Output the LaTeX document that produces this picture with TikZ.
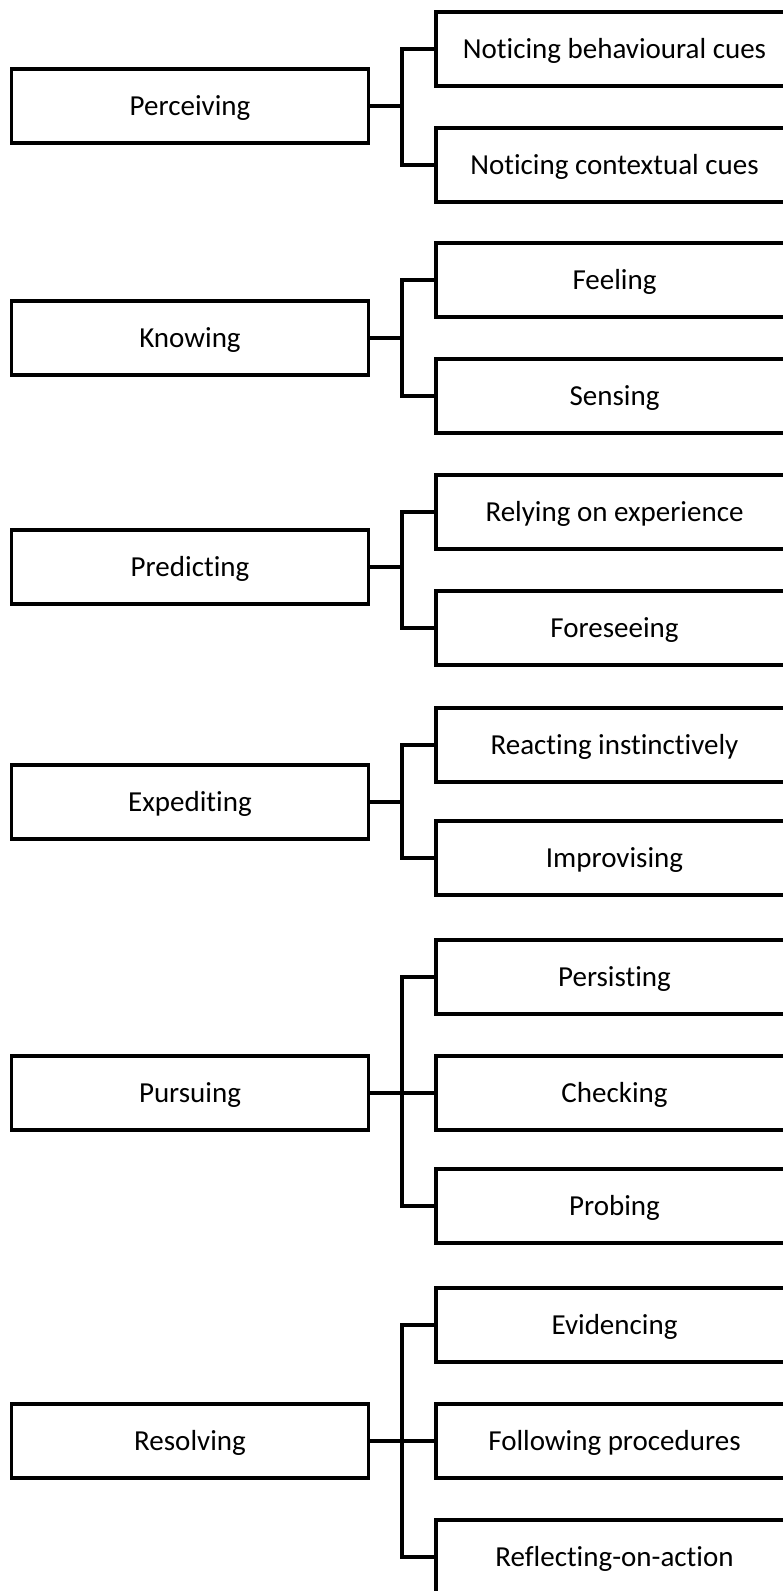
\documentclass[tikz,border=0pt]{standalone}
\usepackage{fontspec}
\setmainfont{Carlito}[RawFeature={-liga;-clig;-calt;-dlig}]

\begin{document}
\begin{tikzpicture}[
			x=1pt, y=-1pt,
			base/.style={draw, line width=3.4pt, outer sep=0pt, inner sep=0pt, minimum width=357pt, minimum height=74pt, text height=22pt, text depth=4pt, font=\fontsize{29}{34}\selectfont},
			parent/.style={base},
			child/.style={base},
			link/.style={line width=3.4pt},
			]

			\newcommand{\parentx}{190}
			\newcommand{\childx}{614.5}
			\newcommand{\gap}{34pt}

			\useasboundingbox (0,0) rectangle (783,1591);
			\clip (0,0) rectangle (783,1591);

			\node [parent] (perceiving) at (\parentx,106)  {Perceiving};
			\node [child]  (behaviour)  at (\childx,49)    {Noticing behavioural cues};
			\node [child]  (context)    at (\childx,165)   {Noticing contextual cues};

			\node [parent] (knowing)    at (\parentx,338)  {Knowing};
			\node [child]  (feeling)    at (\childx,280)   {Feeling};
			\node [child]  (sensing)    at (\childx,396)   {Sensing};

			\node [parent] (predicting) at (\parentx,567)  {Predicting};
			\node [child]  (experience) at (\childx,512)   {Relying on experience};
			\node [child]  (foreseeing) at (\childx,628)   {Foreseeing};

			\node [parent] (expediting) at (\parentx,802)  {Expediting};
			\node [child]  (reacting)   at (\childx,745)   {Reacting instinctively};
			\node [child]  (improvising) at (\childx,858)  {Improvising};

			\node [parent] (pursuing)   at (\parentx,1093) {Pursuing};
			\node [child]  (persisting) at (\childx,977)   {Persisting};
			\node [child]  (checking)   at (\childx,1093)  {Checking};
			\node [child]  (probing)    at (\childx,1206)  {Probing};

			\node [parent] (resolving)  at (\parentx,1441) {Resolving};
			\node [child]  (evidencing) at (\childx,1325)  {Evidencing};
			\node [child]  (procedures) at (\childx,1441)  {Following procedures};
			\node [child]  (reflecting) at (\childx,1557)  {Reflecting-on-action};

			\draw [link] (perceiving.east) -- ++(\gap,0);
			\draw [link] (behaviour.west) -- ++(-\gap,0) |- (context.west);

			\draw [link] (knowing.east) -- ++(\gap,0);
			\draw [link] (feeling.west) -- ++(-\gap,0) |- (sensing.west);

			\draw [link] (predicting.east) -- ++(\gap,0);
			\draw [link] (experience.west) -- ++(-\gap,0) |- (foreseeing.west);

			\draw [link] (expediting.east) -- ++(\gap,0);
			\draw [link] (reacting.west) -- ++(-\gap,0) |- (improvising.west);

			\draw [link] (pursuing.east) -- (checking.west);
			\draw [link] (persisting.west) -- ++(-\gap,0) |- (probing.west);

			\draw [link] (resolving.east) -- (procedures.west);
			\draw [link] (evidencing.west) -- ++(-\gap,0) |- (reflecting.west);

		\end{tikzpicture}
\end{document}
